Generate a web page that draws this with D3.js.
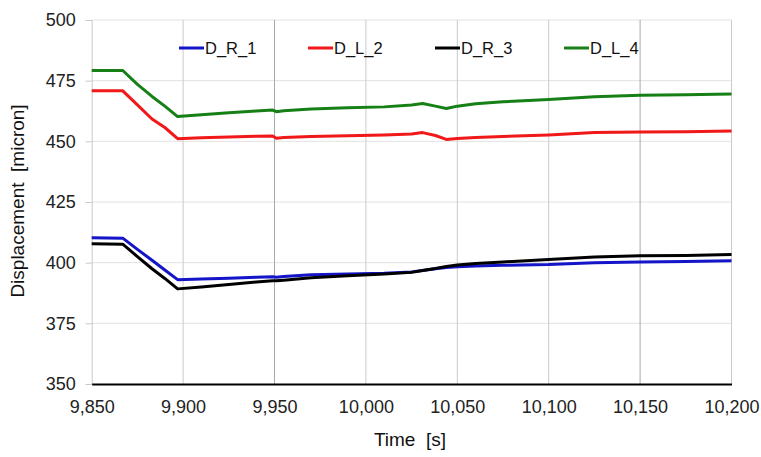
<!DOCTYPE html>
<html><head><meta charset="utf-8">
<script src="https://cdn.jsdelivr.net/npm/d3@7"></script>
<style>body{margin:0;background:#fff;}svg{display:block;font-family:"Liberation Sans",Arial,sans-serif;}text{white-space:pre;}</style>
</head><body><svg id="c" width="761" height="457"></svg>
<script>
const time = [9850,9867,9875,9883,9890,9897,9910,9925,9940,9949,9951,9955,9970,9990,10010,10025,10031,10038,10044,10050,10060,10075,10100,10125,10150,10175,10200];
const D_R_1 = [410.3,410.1,405.5,401,397,393,393.3,393.6,394,394.2,394,394.3,395,395.3,395.6,396.2,396.8,397.5,398,398.3,398.6,398.9,399.2,400,400.3,400.5,400.8];
const D_L_2 = [470.8,470.8,465,459.2,455.7,451.1,451.5,451.8,452.1,452.2,451.3,451.6,452,452.3,452.6,453,453.6,452.4,450.8,451.2,451.6,452,452.6,453.6,453.8,454,454.3];
const D_R_3 = [407.8,407.6,402.5,397.5,393.5,389.2,390,391,392,392.5,392.5,392.8,393.8,394.6,395.3,396,396.8,397.6,398.4,399,399.7,400.3,401.3,402.3,402.8,403,403.4];
const D_L_4 = [479.2,479.2,473.5,468.5,464.5,460.2,461,461.8,462.5,462.9,462.2,462.6,463.3,463.8,464.2,465,465.6,464.5,463.5,464.5,465.5,466.3,467.2,468.4,469,469.2,469.5];
const seriesNames = ["D_R_1","D_L_2","D_R_3","D_L_4"];
const seriesValues = [D_R_1, D_L_2, D_R_3, D_L_4];
const colors = ["#1414c8","#f01818","#000000","#168016"];
const xTicks = [9850,9900,9950,10000,10050,10100,10150,10200];
const yTicks = [350,375,400,425,450,475,500];

const svg = d3.select("#c");
const L = 91.7, R = 731.5, T = 20, B = 384;
const x = d3.scaleLinear().domain([9850,10200]).range([L,R]);
const y = d3.scaleLinear().domain([350,500]).range([B,T]);
const FF = "Liberation Sans, Arial, sans-serif";

// horizontal gridlines
svg.append("g").selectAll("line").data(yTicks.filter(d=>d>350)).join("line")
  .attr("x1",L).attr("x2",R).attr("y1",d=>y(d)).attr("y2",d=>y(d))
  .attr("stroke","#e2e2e2").attr("stroke-width",1);
// vertical gridlines
svg.append("g").selectAll("line").data(xTicks.filter(d=>d>9850)).join("line")
  .attr("x1",d=>x(d)).attr("x2",d=>x(d)).attr("y1",T).attr("y2",B)
  .attr("stroke",d=>(d===9950||d===10150)?"#a8a8a8":"#cacaca").attr("stroke-width",1);

// y axis
const yAxis = d3.axisLeft(y).tickValues(yTicks).tickSize(6).tickPadding(10).tickFormat(d3.format("d"));
const gy = svg.append("g").attr("transform",`translate(${L},0)`).call(yAxis);
gy.select(".domain").attr("stroke","#c8c8c8");
gy.selectAll(".tick line").attr("stroke","#c8c8c8");
gy.selectAll("text").attr("font-size",18).attr("fill","#222").attr("font-family",FF);

// x axis
const xAxis = d3.axisBottom(x).tickValues(xTicks).tickSize(0).tickPadding(16).tickFormat(d3.format(","));
const gx = svg.append("g").attr("transform",`translate(0,${B})`).call(xAxis);
gx.select(".domain").attr("stroke","#000").attr("stroke-width",2);
gx.selectAll("text").attr("font-size",18).attr("fill","#222").attr("font-family",FF);

// lines
const line = d3.line().x((d,i)=>x(time[i])).y(d=>y(d));
seriesValues.forEach((vals,k)=>{
  svg.append("path").datum(vals).attr("d",line).attr("fill","none")
    .attr("stroke",colors[k]).attr("stroke-width",3).attr("stroke-linejoin","round");
});

// legend
const legX = [179,308,435,564];
seriesNames.forEach((n,k)=>{
  svg.append("line").attr("x1",legX[k]).attr("x2",legX[k]+25).attr("y1",48).attr("y2",48)
    .attr("stroke",colors[k]).attr("stroke-width",3);
  svg.append("text").attr("x",legX[k]+26).attr("y",54).attr("font-size",16.5).attr("fill","#111").text(n);
});

// axis titles
svg.append("text").attr("x",410).attr("y",446).attr("text-anchor","middle").attr("font-size",19).attr("fill","#111").text("Time  [s]");
svg.append("text").attr("transform","translate(24,201) rotate(-90)").attr("text-anchor","middle").attr("font-size",19).attr("fill","#111").text("Displacement  [micron]");
</script></body></html>
